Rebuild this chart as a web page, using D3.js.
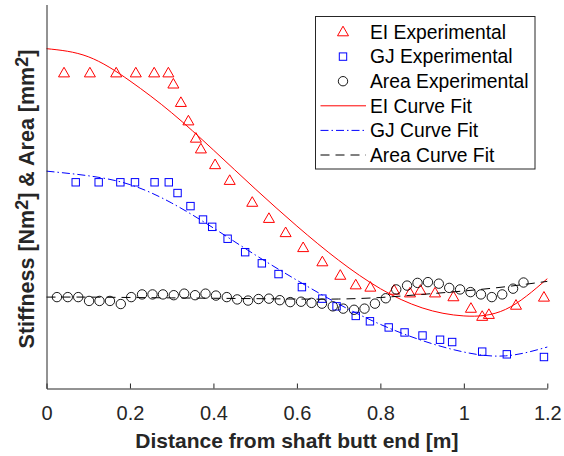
<!DOCTYPE html>
<html>
<head>
<meta charset="utf-8">
<script src="https://cdn.jsdelivr.net/npm/d3@7"></script>
<style>
  body { margin: 0; background: #fff; }
  svg { display: block; font-family: "Liberation Sans", Arial, Helvetica, sans-serif; }
</style>
</head>
<body>
<svg id="chart" width="564" height="456"></svg>
<script>
// Measured stations along the shaft [m] and the experimental values (relative units)
const eiX = [0.042, 0.104, 0.167, 0.214, 0.258, 0.292, 0.304, 0.322, 0.340, 0.358, 0.370,
             0.404, 0.439, 0.493, 0.533, 0.573, 0.615, 0.661, 0.704, 0.741, 0.776, 0.833,
             0.871, 0.896, 0.931, 0.975, 1.017, 1.044, 1.060, 1.125, 1.192];
const eiY = [82.4, 82.4, 82.4, 82.4, 82.4, 82.4, 79.5, 74.7, 69.9, 65.4, 62.6,
             58.5, 54.4, 48.7, 44.5, 40.8, 36.9, 33.2, 29.7, 27.2, 26.6, 25.8,
             25.1, 25.8, 25.1, 24.1, 21.1, 19.0, 19.5, 21.9, 24.0];

const gjX = [0.070, 0.125, 0.177, 0.212, 0.259, 0.293, 0.314, 0.345, 0.375, 0.397, 0.434,
             0.476, 0.516, 0.556, 0.612, 0.661, 0.695, 0.741, 0.775, 0.820, 0.858, 0.901,
             0.943, 0.972, 1.044, 1.103, 1.192];
const gjY = [53.7, 53.7, 53.7, 53.7, 53.7, 53.7, 50.9, 47.5, 44.0, 42.1, 39.0,
             35.5, 32.6, 29.8, 26.4, 23.4, 21.4, 18.9, 17.5, 15.9, 14.6, 13.8,
             12.7, 12.1, 9.6, 8.9, 8.2];

const areaX = [0.025, 0.051, 0.076, 0.102, 0.127, 0.152, 0.178, 0.203, 0.229, 0.254,
               0.279, 0.305, 0.330, 0.356, 0.381, 0.406, 0.432, 0.457, 0.483, 0.508,
               0.533, 0.559, 0.584, 0.610, 0.635, 0.660, 0.686, 0.711, 0.737, 0.762,
               0.787, 0.813, 0.838, 0.864, 0.889, 0.914, 0.940, 0.965, 0.991, 1.016,
               1.041, 1.067, 1.092, 1.118, 1.143];
const areaY = [23.8, 23.8, 23.8, 22.8, 22.8, 22.8, 22.0, 23.8, 24.5, 24.5,
               24.5, 24.3, 24.7, 24.3, 24.7, 24.2, 23.8, 23.2, 22.9, 23.3,
               23.4, 23.0, 22.5, 22.6, 22.3, 22.1, 21.4, 20.8, 20.5, 20.8,
               22.1, 23.5, 25.8, 26.8, 27.5, 27.7, 27.3, 26.2, 25.8, 25.1,
               24.5, 23.8, 24.5, 26.0, 27.6];

// Curve-fit lines, sampled every 0.1 m
const fitX     = [0, 0.1, 0.2, 0.3, 0.4, 0.5, 0.6, 0.7, 0.8, 0.9, 1.0, 1.1, 1.2];
const eiFitY   = [88.5, 86.4, 80.1, 71.8, 62.1, 52.0, 42.3, 33.4, 26.0, 21.0, 18.9, 20.6, 28.6];
const gjFitY   = [56.6, 55.4, 53.1, 48.3, 41.8, 34.8, 28.2, 22.0, 16.7, 12.5, 9.5, 8.5, 10.8];
const areaFitY = [23.8, 23.8, 23.7, 23.6, 23.5, 23.4, 23.3, 23.3, 23.7, 24.5, 25.4, 26.5, 27.9];

// Axis ticks and labels
const xTickValues = [0, 0.2, 0.4, 0.6, 0.8, 1, 1.2];
const xTickLabels = ["0", "0.2", "0.4", "0.6", "0.8", "1", "1.2"];
const xAxisTitle = "Distance from shaft butt end [m]";
const legendLabels = ["EI Experimental", "GJ Experimental", "Area Experimental",
                      "EI Curve Fit", "GJ Curve Fit", "Area Curve Fit"];

const svg = d3.select("#chart");
const axisColor = "#262626";

const x = d3.scaleLinear().domain([0, 1.2]).range([46.5, 547.3]);
const y = d3.scaleLinear().domain([0, 100]).range([388.5, 4.5]);

// Marker shapes
const triPath = (w, h) => `M0,${-h / 2}L${w / 2},${h / 2}L${-w / 2},${h / 2}Z`;
const TRI_W = 11, TRI_H = 9.6, SQ = 7.4, CIRC_R = 4.7;

function drawTriangles(g, xs, ys) {
  g.selectAll("path.tri").data(xs).join("path")
    .attr("class", "tri")
    .attr("d", triPath(TRI_W, TRI_H))
    .attr("transform", (d, i) => `translate(${x(d)},${y(ys[i])})`)
    .attr("fill", "none").attr("stroke", "#ff0000").attr("stroke-width", 1);
}
function drawSquares(g, xs, ys) {
  g.selectAll("rect.sq").data(xs).join("rect")
    .attr("class", "sq")
    .attr("x", d => x(d) - SQ / 2)
    .attr("y", (d, i) => y(ys[i]) - SQ / 2)
    .attr("width", SQ).attr("height", SQ)
    .attr("fill", "none").attr("stroke", "#0000ff").attr("stroke-width", 1);
}
function drawCircles(g, xs, ys) {
  g.selectAll("circle.ci").data(xs).join("circle")
    .attr("class", "ci")
    .attr("cx", d => x(d))
    .attr("cy", (d, i) => y(ys[i]))
    .attr("r", CIRC_R)
    .attr("fill", "none").attr("stroke", "#000").attr("stroke-width", 0.9);
}

const marks = svg.append("g");
drawTriangles(marks.append("g"), eiX, eiY);
drawSquares(marks.append("g"), gjX, gjY);
drawCircles(marks.append("g"), areaX, areaY);

// Fitted curves
const line = d3.line().x(d => x(d[0])).y(d => y(d[1])).curve(d3.curveNatural);
const fits = [
  { ys: eiFitY,   color: "#ff0000", dash: null },
  { ys: gjFitY,   color: "#0000ff", dash: "8,3,1.5,3" },
  { ys: areaFitY, color: "#000000", dash: "9,6" }
];
fits.forEach(f => {
  svg.append("path")
    .datum(fitX.map((v, i) => [v, f.ys[i]]))
    .attr("d", line)
    .attr("fill", "none")
    .attr("stroke", f.color)
    .attr("stroke-width", 1)
    .attr("stroke-dasharray", f.dash);
});

// Axes
const xAxis = d3.axisBottom(x)
  .tickValues(xTickValues)
  .tickFormat((d, i) => xTickLabels[i])
  .tickSizeInner(-5)
  .tickSizeOuter(0)
  .tickPadding(17);
const gx = svg.append("g").attr("transform", "translate(0,388.5)").call(xAxis);
gx.select(".domain").attr("stroke", axisColor);
gx.selectAll(".tick line").attr("stroke", axisColor);
gx.selectAll(".tick text")
  .attr("fill", axisColor)
  .style("font-size", "20px")
  .style("font-family", "'Liberation Sans', Arial, sans-serif");

const yAxis = d3.axisLeft(y).tickValues([]).tickSizeOuter(0);
const gy = svg.append("g").attr("transform", "translate(46.5,0)").call(yAxis);
gy.select(".domain").attr("stroke", axisColor);

// Axis titles
svg.append("text")
  .attr("x", (x(0) + x(1.2)) / 2)
  .attr("y", 447.5)
  .attr("text-anchor", "middle")
  .attr("fill", axisColor)
  .style("font-size", "21px")
  .style("font-weight", "bold")
  .text(xAxisTitle);

const yt = svg.append("text")
  .attr("transform", "translate(34,199) rotate(-90)")
  .attr("text-anchor", "middle")
  .attr("fill", axisColor)
  .style("font-size", "21.5px")
  .style("font-weight", "bold");
yt.append("tspan").text("Stiffness [Nm");
yt.append("tspan").attr("dy", -6).style("font-size", "18px").text("2");
yt.append("tspan").attr("dy", 6).text("] & Area [mm");
yt.append("tspan").attr("dy", -6).style("font-size", "18px").text("2");
yt.append("tspan").attr("dy", 6).text("]");

// Legend
const lg = svg.append("g");
lg.append("rect")
  .attr("x", 315.5).attr("y", 16.5).attr("width", 219.5).attr("height", 152.5)
  .attr("fill", "#fff").attr("stroke", axisColor).attr("stroke-width", 1);

const rowY = i => 32 + i * 24.6;
const mx = 343;
lg.append("path").attr("d", triPath(TRI_W, TRI_H))
  .attr("transform", `translate(${mx},${rowY(0) - 1})`)
  .attr("fill", "none").attr("stroke", "#ff0000");
lg.append("rect").attr("x", mx - SQ / 2).attr("y", rowY(1) - SQ / 2)
  .attr("width", SQ).attr("height", SQ)
  .attr("fill", "none").attr("stroke", "#0000ff");
lg.append("circle").attr("cx", mx).attr("cy", rowY(2)).attr("r", CIRC_R)
  .attr("fill", "none").attr("stroke", "#000").attr("stroke-width", 0.9);
fits.forEach((f, k) => {
  lg.append("line")
    .attr("x1", 320.5).attr("x2", 366)
    .attr("y1", rowY(3 + k)).attr("y2", rowY(3 + k))
    .attr("stroke", f.color).attr("stroke-width", 1)
    .attr("stroke-dasharray", f.dash);
});
lg.selectAll("text.lab").data(legendLabels).join("text")
  .attr("class", "lab")
  .attr("x", 370)
  .attr("y", (d, i) => rowY(i) + 6.8)
  .attr("fill", "#000")
  .style("font-size", "19.3px")
  .text(d => d);
</script>
</body>
</html>
